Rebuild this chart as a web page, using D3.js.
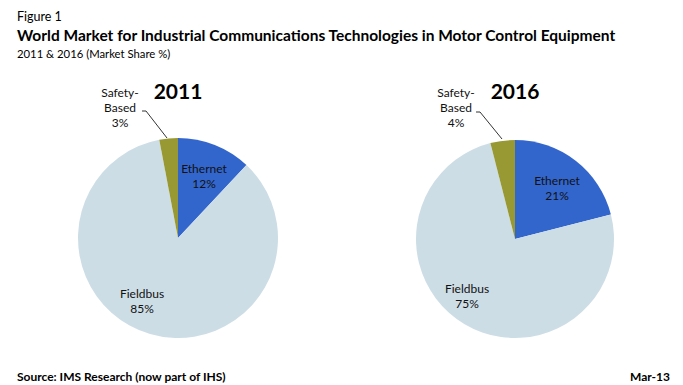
<!DOCTYPE html>
<html>
<head>
<meta charset="utf-8">
<script src="https://cdn.jsdelivr.net/npm/d3@7"></script>
<style>
  body { margin: 0; background: #fff; }
  svg { display: block; font-family: Lato, "Open Sans", sans-serif; }
</style>
</head>
<body>
<svg id="chart" width="683" height="385"></svg>
<script>
// data
var categories = ["Ethernet", "Fieldbus", "Safety-Based"];
var years = ["2011", "2016"];
var share2011 = [12, 85, 3];
var share2016 = [21, 75, 4];
var colors = ["#3366cc", "#cddde6", "#999933"];

var width = 683, height = 385;
var svg = d3.select("#chart");

// titles
svg.append("text").attr("x", 17).attr("y", 21)
   .style("font-size", "12.5px").style("fill", "#000").text("Figure 1");
svg.append("text").attr("x", 17).attr("y", 41)
   .style("font-size", "15.5px").style("font-weight", "bold").style("fill", "#000")
   .text("World Market for Industrial Communications Technologies in Motor Control Equipment");
svg.append("text").attr("x", 17).attr("y", 58)
   .style("font-size", "11.3px").style("fill", "#000").text("2011 & 2016 (Market Share %)");

// footer
svg.append("text").attr("x", 17).attr("y", 381)
   .style("font-size", "12px").style("font-weight", "bold").text("Source: IMS Research (now part of IHS)");
svg.append("text").attr("x", 670).attr("y", 381).attr("text-anchor", "end")
   .style("font-size", "12px").style("font-weight", "bold").text("Mar-13");

var pie = d3.pie().sort(null);
var color = d3.scaleOrdinal().domain(categories).range(colors);

// per-pie layout (label offsets relative to centre)
var pies = [
  { year: years[0], values: share2011, cx: 178, cy: 238, r: 100,
    labels: [[26, -65], [-36, 60], [-58, -141]],
    leader: [[-36, -127], [-32, -127], [-11, -100]] },
  { year: years[1], values: share2016, cx: 515, cy: 239, r: 99,
    labels: [[42, -54], [-48, 54], [-59, -142]],
    leader: [[-39, -127], [-35, -127], [-13, -100]] }
];

pies.forEach(function(p) {
  var g = svg.append("g").attr("transform", "translate(" + p.cx + "," + p.cy + ")");
  var arc = d3.arc().innerRadius(0).outerRadius(p.r);
  var arcs = pie(p.values);

  g.selectAll("path").data(arcs).enter().append("path")
    .attr("d", arc)
    .attr("fill", function(d, i) { return color(categories[i]); });

  // leader line for the small slice
  g.append("path")
    .attr("d", d3.line()(p.leader))
    .attr("fill", "none").attr("stroke", "#000").attr("stroke-width", 0.8);

  arcs.forEach(function(d, i) {
    var lines = categories[i] === "Safety-Based" ? ["Safety-", "Based"] : [categories[i]];
    lines.push(p.values[i] + "%");
    var t = g.append("text")
      .attr("x", p.labels[i][0]).attr("y", p.labels[i][1])
      .attr("text-anchor", "middle")
      .style("font-size", "12px").style("fill", "#111");
    lines.forEach(function(s, k) {
      t.append("tspan").attr("x", p.labels[i][0]).attr("dy", k === 0 ? 0 : 15).text(s);
    });
  });

  svg.append("text").attr("x", p.cx).attr("y", 99).attr("text-anchor", "middle")
    .style("font-size", "21px").style("font-weight", "bold").text(p.year);
});
</script>
</body>
</html>
